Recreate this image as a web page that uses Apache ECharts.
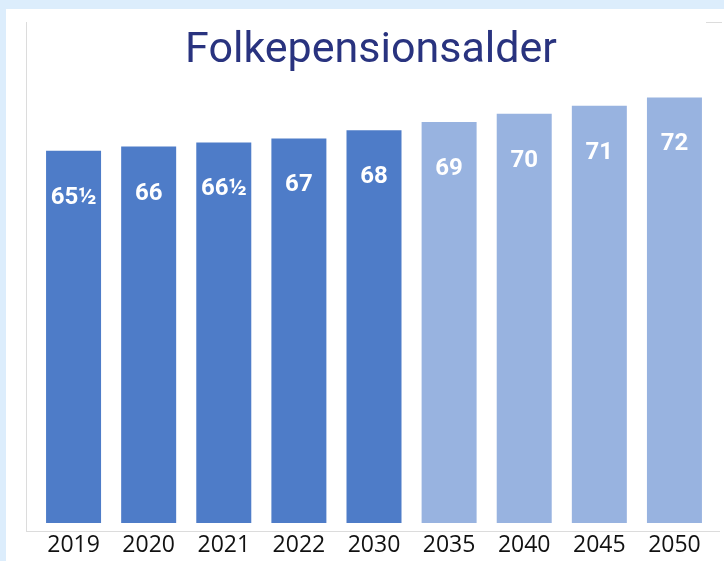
<!DOCTYPE html>
<html lang="da">
<head>
    <meta charset="UTF-8">
    <title>Folkepensionsalder</title>
    <script src="https://cdn.jsdelivr.net/npm/echarts@6/dist/echarts.min.js"></script>
    <style>
        body { margin: 0; }
    </style>
</head>
<body>
<div id="main" style="width: 724px; height: 561px;"></div>
<script>
  // år og folkepensionsalder
  var years = ['2019', '2020', '2021', '2022', '2030', '2035', '2040', '2045', '2050'];
  var ages = [65.5, 66, 66.5, 67, 68, 69, 70, 71, 72];
  // fra og med dette år er søjlerne lysere (fremskrevet)
  var firstProjected = '2035';

  var darkBlue = '#4e7cc8';
  var lightBlue = '#98b3e0';

  function ageText(v) {
    var whole = Math.floor(v);
    return v - whole > 0 ? whole + '½' : String(whole);
  }

  var chart = echarts.init(document.getElementById('main'));

  var option = {
    backgroundColor: '#dcedfc',
    animation: false,
    title: {
      text: 'Folkepensionsalder',
      left: 366,
      top: 25,
      textAlign: 'center',
      textStyle: {
        color: '#29337f',
        fontFamily: 'Roboto',
        fontWeight: 'normal',
        fontSize: 43
      }
    },
    // hvid flade og de tynde grå kantlinjer
    graphic: [
      {type: 'rect', z: -10, shape: {x: 6, y: 9, width: 718, height: 552}, style: {fill: '#ffffff'}},
      {type: 'line', shape: {x1: 26.5, y1: 22, x2: 26.5, y2: 531}, style: {stroke: '#dcdcdc', lineWidth: 1}},
      {type: 'line', shape: {x1: 26, y1: 531.5, x2: 720, y2: 531.5}, style: {stroke: '#dcdcdc', lineWidth: 1}},
      {type: 'line', shape: {x1: 706, y1: 22.5, x2: 722, y2: 22.5}, style: {stroke: '#dcdcdc', lineWidth: 1}}
    ],
    grid: {
      left: 36,
      right: 12,
      top: 32,
      bottom: 38
    },
    xAxis: {
      type: 'category',
      data: years,
      axisLine: {show: false},
      axisTick: {show: false},
      axisLabel: {
        margin: 11,
        color: '#111111',
        fontFamily: 'Open Sans',
        fontSize: 23
      }
    },
    yAxis: {
      type: 'value',
      min: 20,
      max: 80,
      show: false
    },
    series: [{
      type: 'bar',
      data: ages,
      barWidth: 55,
      itemStyle: {
        color: function (p) {
          return years.indexOf(p.name) >= years.indexOf(firstProjected) ? lightBlue : darkBlue;
        }
      },
      label: {
        show: true,
        position: 'insideTop',
        distance: 35,
        color: '#ffffff',
        fontFamily: 'Roboto',
        fontWeight: 'bold',
        fontSize: 24,
        formatter: function (p) {
          return ageText(p.value);
        }
      }
    }]
  };

  chart.setOption(option);
</script>
</body>
</html>
